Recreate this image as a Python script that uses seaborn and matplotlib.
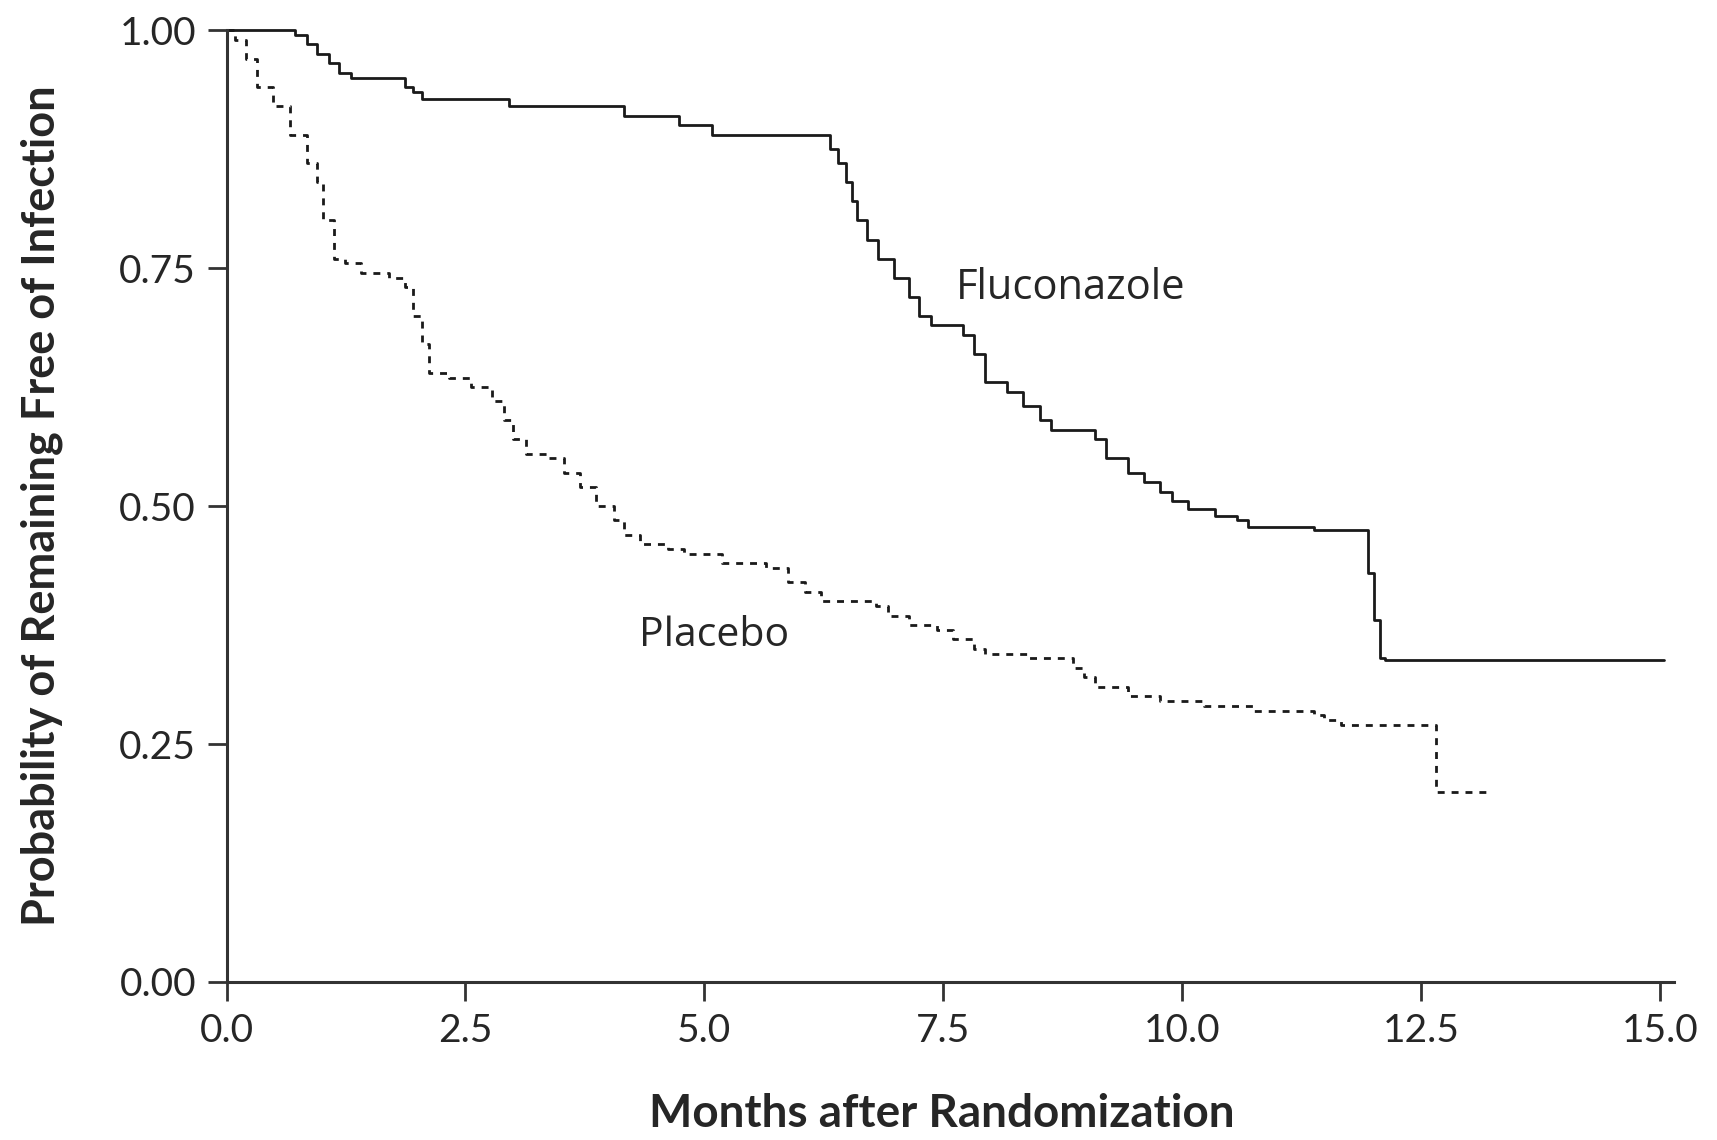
import matplotlib
matplotlib.use("Agg")
import matplotlib.pyplot as plt
import seaborn as sns
import pandas as pd

# Kaplan-Meier step points (months, probability)
fluco_t = [0, 0.72, 0.84, 0.95, 1.07, 1.18, 1.30, 1.87, 1.95, 2.04, 2.96, 4.16, 4.73, 5.08,
           6.31, 6.40, 6.48, 6.55, 6.60, 6.70, 6.82, 6.99, 7.14, 7.25, 7.37, 7.71, 7.82, 7.94,
           8.17, 8.34, 8.51, 8.63, 9.09, 9.20, 9.43, 9.60, 9.77, 9.89, 10.06, 10.35, 10.58,
           10.69, 11.38, 11.95, 12.01, 12.07, 12.12, 15.04]
fluco_s = [1.0, 0.995, 0.985, 0.975, 0.965, 0.955, 0.95, 0.94, 0.935, 0.928, 0.92, 0.91, 0.90, 0.89,
           0.875, 0.86, 0.84, 0.82, 0.80, 0.78, 0.76, 0.74, 0.72, 0.70, 0.69, 0.68, 0.66, 0.63,
           0.62, 0.605, 0.59, 0.58, 0.57, 0.55, 0.535, 0.525, 0.515, 0.505, 0.497, 0.49, 0.485,
           0.478, 0.475, 0.43, 0.38, 0.34, 0.338, 0.338]

plac_t = [0, 0.09, 0.20, 0.32, 0.49, 0.66, 0.84, 0.95, 1.01, 1.12, 1.24, 1.41, 1.70, 1.87, 1.95,
          2.04, 2.12, 2.33, 2.56, 2.78, 2.90, 3.00, 3.13, 3.36, 3.53, 3.70, 3.87, 4.05, 4.16,
          4.33, 4.62, 4.79, 5.19, 5.65, 5.88, 6.05, 6.22, 6.80, 6.92, 7.14, 7.43, 7.60, 7.82,
          7.94, 8.40, 8.86, 8.97, 9.09, 9.43, 9.77, 10.23, 10.75, 11.38, 11.49, 11.66, 12.66, 13.21]
plac_s = [1.0, 0.99, 0.97, 0.94, 0.92, 0.89, 0.86, 0.84, 0.80, 0.76, 0.755, 0.745, 0.74, 0.73, 0.70,
          0.67, 0.64, 0.635, 0.625, 0.61, 0.59, 0.57, 0.555, 0.55, 0.535, 0.52, 0.50, 0.485, 0.47,
          0.46, 0.455, 0.45, 0.44, 0.435, 0.42, 0.41, 0.40, 0.395, 0.385, 0.375, 0.37, 0.36, 0.35,
          0.345, 0.34, 0.33, 0.32, 0.31, 0.30, 0.295, 0.29, 0.285, 0.28, 0.275, 0.27, 0.20, 0.20]

x_ticks = [0.0, 2.5, 5.0, 7.5, 10.0, 12.5, 15.0]
y_ticks = [0.00, 0.25, 0.50, 0.75, 1.00]

sns.set_style("ticks")
plt.rcParams['font.family'] = ['Lato', 'DejaVu Sans']

df_f = pd.DataFrame({'months': fluco_t, 'prob': fluco_s})
df_p = pd.DataFrame({'months': plac_t, 'prob': plac_s})

fig = plt.figure(figsize=(17.17, 11.4), dpi=100)
ax = fig.add_axes([0.132, 0.1386, 0.843, 0.835])

sns.lineplot(data=df_f, x='months', y='prob', ax=ax, color='#1a1a1a', linewidth=2.0,
             drawstyle='steps-post', clip_on=False)
sns.lineplot(data=df_p, x='months', y='prob', ax=ax, color='#1a1a1a', linewidth=2.0,
             drawstyle='steps-post', linestyle=(0, (2.5, 2.5)), clip_on=False)

ax.set_xlim(0, 15.15)
ax.set_ylim(0, 1.0)
ax.set_xticks(x_ticks)
ax.set_xticklabels([f"{v:.1f}" for v in x_ticks])
ax.set_yticks(y_ticks)
ax.set_yticklabels([f"{v:.2f}" for v in y_ticks])
ax.tick_params(axis='both', labelsize=28, length=14, width=2, color='#333333', pad=8)

for side in ['top', 'right']:
    ax.spines[side].set_visible(False)
for side in ['left', 'bottom']:
    ax.spines[side].set_linewidth(2.2)
    ax.spines[side].set_color('#333333')

ax.set_xlabel("Months after Randomization", fontsize=33, fontweight='bold')
ax.set_ylabel("Probability of Remaining Free of Infection", fontsize=32.5, fontweight='bold')
ax.xaxis.set_label_coords(0.494, -0.117)
ax.yaxis.set_label_coords(-0.113, 0.5)

ax.text(7.63, 0.729, "Fluconazole", fontsize=30, va='center', family=['Open Sans', 'DejaVu Sans'])
ax.text(4.32, 0.364, "Placebo", fontsize=29.5, va='center', family=['Open Sans', 'DejaVu Sans'])

fig.savefig("out.png", dpi=100, facecolor='white')
